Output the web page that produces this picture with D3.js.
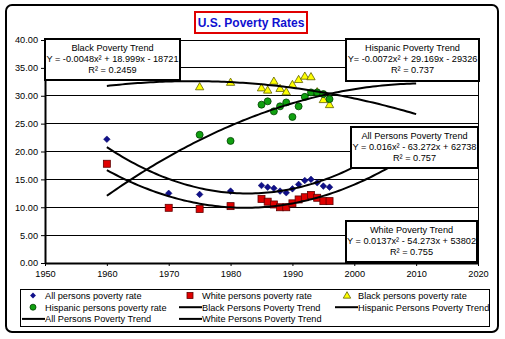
<!DOCTYPE html>
<html>
<head>
<meta charset="utf-8">
<script src="https://cdn.jsdelivr.net/npm/d3@7"></script>
<style>
  body { margin: 0; background: #fff; }
  text { font-family: "Liberation Sans", Arial, sans-serif; font-size: 9.2px; fill: #000; }
</style>
</head>
<body>
<svg id="chart" width="505" height="339"></svg>
<script>
// data
const allYears = [1960, 1970, 1975, 1980, 1985, 1986, 1987, 1988, 1989, 1990, 1991, 1992, 1993, 1994, 1995, 1996];
const allRate = [22.2, 12.5, 12.3, 12.9, 13.9, 13.6, 13.4, 12.9, 12.6, 13.3, 14.1, 14.8, 15.0, 14.4, 13.8, 13.6];
const whiteRate = [17.8, 9.9, 9.7, 10.2, 11.5, 11.0, 10.5, 10.0, 10.0, 10.7, 11.4, 11.8, 12.2, 11.7, 11.1, 11.1];

// the 1970 black value sits behind the trend box in the picture
const blackYears = [1970, 1975, 1980, 1985, 1986, 1987, 1988, 1989, 1990, 1991, 1992, 1993, 1994, 1995, 1996];
const blackRate = [33.5, 31.5, 32.3, 31.3, 30.9, 32.5, 31.2, 30.6, 31.9, 32.8, 33.4, 33.3, 30.6, 29.2, 28.3];

const hispanicYears = [1975, 1980, 1985, 1986, 1987, 1988, 1989, 1990, 1991, 1992, 1993, 1994, 1995, 1996];
const hispanicRate = [23.0, 21.9, 28.4, 29.0, 27.2, 28.1, 28.8, 26.2, 28.1, 29.8, 30.6, 30.6, 30.3, 29.4];

const xTicks = [1950, 1960, 1970, 1980, 1990, 2000, 2010, 2020];
const yTicks = [0, 5, 10, 15, 20, 25, 30, 35, 40];
const trendRange = [1960, 2010];

const trendBoxes = [
  { name: "Black", lines: ["Black Poverty Trend", "Y = -0.0048x\u00b2 + 18.999x - 18721", "R\u00b2 = 0.2459"] },
  { name: "Hispanic", lines: ["Hispanic Poverty Trend", "Y= -0.0072x\u00b2 + 29.169x - 29326", "R\u00b2 = 0.737"] },
  { name: "All", lines: ["All Persons Poverty Trend", "Y = 0.016x\u00b2 - 63.272x + 62738", "R\u00b2 = 0.757"] },
  { name: "White", lines: ["White Poverty Trend", "Y = 0.0137x\u00b2 - 54.273x + 53802", "R\u00b2 = 0.755"] }
];

const legendItems = [
  "All persons poverty rate", "White persons poverty rate", "Black persons poverty rate",
  "Hispanic persons poverty rate", "Black Persons Poverty Trend", "Hispanic Persons Poverty Trend",
  "All Persons Poverty Trend", "White Persons Poverty Trend"
];

const svg = d3.select("#chart");

// outer frame
svg.append("rect")
  .attr("x", 6).attr("y", 5).attr("width", 492).attr("height", 327)
  .attr("rx", 6).attr("fill", "#fff").attr("stroke", "#000").attr("stroke-width", 2);

const plot = { left: 45, right: 478, top: 40, bottom: 263 };

const x = d3.scaleLinear().domain([1950, 2020]).range([plot.left, plot.right]);
const y = d3.scaleLinear().domain([0, 40]).range([plot.bottom, plot.top]);

// gridlines
svg.append("g")
  .selectAll("line")
  .data(yTicks.filter(d => d > 0))
  .join("line")
  .attr("x1", plot.left).attr("x2", plot.right)
  .attr("y1", d => y(d)).attr("y2", d => y(d))
  .attr("stroke", "#000").attr("stroke-width", 1)
  .attr("shape-rendering", "crispEdges");

svg.append("line")
  .attr("x1", plot.right).attr("x2", plot.right)
  .attr("y1", plot.top).attr("y2", plot.bottom)
  .attr("stroke", "#000").attr("shape-rendering", "crispEdges");

// axes
const xAxis = svg.append("g")
  .attr("transform", `translate(0,${plot.bottom})`)
  .call(d3.axisBottom(x).tickValues(xTicks).tickFormat(d3.format("d")).tickSize(3).tickSizeOuter(0));
const yAxis = svg.append("g")
  .attr("transform", `translate(${plot.left},0)`)
  .call(d3.axisLeft(y).tickValues(yTicks).tickFormat(d3.format(".2f")).tickSize(4).tickSizeOuter(0));

[xAxis, yAxis].forEach(g => {
  g.select(".domain").attr("stroke", "#000").attr("stroke-width", 2);
  g.selectAll(".tick line").attr("stroke", "#000");
  g.selectAll(".tick text").style("fill", "#000");
  g.attr("font-family", null).attr("font-size", null);
});
xAxis.selectAll(".tick text").attr("dy", "0.9em");
yAxis.selectAll(".tick text").attr("x", -7);

// least-squares quadratic trend (x centred for stability)
function quadFit(xs, ys) {
  const mx = d3.mean(xs);
  let s0 = xs.length, s1 = 0, s2 = 0, s3 = 0, s4 = 0, t0 = 0, t1 = 0, t2 = 0;
  xs.forEach((xv, i) => {
    const u = xv - mx, v = ys[i];
    s1 += u; s2 += u * u; s3 += u * u * u; s4 += u * u * u * u;
    t0 += v; t1 += u * v; t2 += u * u * v;
  });
  const det = (m) => m[0][0] * (m[1][1] * m[2][2] - m[1][2] * m[2][1])
                   - m[0][1] * (m[1][0] * m[2][2] - m[1][2] * m[2][0])
                   + m[0][2] * (m[1][0] * m[2][1] - m[1][1] * m[2][0]);
  const M = [[s4, s3, s2], [s3, s2, s1], [s2, s1, s0]];
  const r = [t2, t1, t0];
  const D = det(M);
  const col = (k) => M.map((row, i) => row.map((c, j) => j === k ? r[i] : c));
  const a = det(col(0)) / D, b = det(col(1)) / D, c = det(col(2)) / D;
  return xv => { const u = xv - mx; return a * u * u + b * u + c; };
}

// markers
const mk = svg.append("g");
mk.selectAll(".all").data(allYears.map((d, i) => [d, allRate[i]])).join("path")
  .attr("d", d3.symbol(d3.symbolDiamond2, 28))
  .attr("transform", d => `translate(${x(d[0])},${y(d[1])})`)
  .attr("fill", "#10108a").attr("stroke", "#000060").attr("stroke-width", 0.5);
mk.selectAll(".white").data(allYears.map((d, i) => [d, whiteRate[i]])).join("rect")
  .attr("x", d => x(d[0]) - 3.5).attr("y", d => y(d[1]) - 3.5)
  .attr("width", 7).attr("height", 7)
  .attr("fill", "#e00000").attr("stroke", "#600000").attr("stroke-width", 0.8);
mk.selectAll(".black").data(blackYears.map((d, i) => [d, blackRate[i]])).join("path")
  .attr("d", d3.symbol(d3.symbolTriangle, 30))
  .attr("transform", d => `translate(${x(d[0])},${y(d[1])})`)
  .attr("fill", "#ffff00").attr("stroke", "#606000").attr("stroke-width", 0.8);
mk.selectAll(".hisp").data(hispanicYears.map((d, i) => [d, hispanicRate[i]])).join("circle")
  .attr("cx", d => x(d[0])).attr("cy", d => y(d[1])).attr("r", 3.5)
  .attr("fill", "#10a010").attr("stroke", "#004000").attr("stroke-width", 0.8);

// trend lines
const trendYears = d3.range(trendRange[0], trendRange[1] + 0.01, 0.5);
const line = d3.line().x(d => x(d[0])).y(d => y(d[1]));
const fits = [
  quadFit(blackYears, blackRate),
  quadFit(hispanicYears, hispanicRate),
  quadFit(allYears, allRate),
  quadFit(allYears, whiteRate)
];
svg.append("g").selectAll("path").data(fits).join("path")
  .attr("d", f => line(trendYears.map(t => [t, f(t)])))
  .attr("fill", "none").attr("stroke", "#000").attr("stroke-width", 2);

// equation boxes
const boxPos = [
  { x: 45, y: 39, w: 135, h: 41 },
  { x: 346, y: 39, w: 133, h: 42 },
  { x: 351, y: 127, w: 127, h: 41 },
  { x: 346, y: 221, w: 131, h: 41 }
];
const boxes = svg.append("g").selectAll("g").data(trendBoxes).join("g")
  .attr("transform", (d, i) => `translate(${boxPos[i].x},${boxPos[i].y})`);
boxes.append("rect")
  .attr("width", (d, i) => boxPos[i].w).attr("height", (d, i) => boxPos[i].h)
  .attr("fill", "#fff").attr("stroke", "#000").attr("stroke-width", 2);
boxes.each(function (d, i) {
  d3.select(this).selectAll("text").data(d.lines).join("text")
    .attr("x", boxPos[i].w / 2)
    .attr("y", (t, j) => 11.8 + j * 11.3)
    .attr("text-anchor", "middle")
    .text(t => t);
});

// title
svg.append("rect")
  .attr("x", 195).attr("y", 12).attr("width", 112).attr("height", 21)
  .attr("fill", "#fff").attr("stroke", "#e00000").attr("stroke-width", 2);
svg.append("text")
  .attr("x", 251).attr("y", 27).attr("text-anchor", "middle")
  .style("font-size", "12px").style("font-weight", "bold").style("fill", "#1010d0")
  .text("U.S. Poverty Rates");

// legend
svg.append("rect")
  .attr("x", 20.5).attr("y", 289.5).attr("width", 469).attr("height", 37)
  .attr("fill", "#fff").attr("stroke", "#000");
const colX = [45, 202, 358];
const legend = svg.append("g").selectAll("g").data(legendItems).join("g")
  .attr("transform", (d, i) => `translate(${colX[i % 3]},${295.5 + Math.floor(i / 3) * 11.7})`);
legend.append("text").attr("y", 3.3).text(d => d);
legend.each(function (d, i) {
  const g = d3.select(this);
  if (i === 0) g.append("path").attr("d", d3.symbol(d3.symbolDiamond2, 22)).attr("transform", "translate(-12,0)")
    .attr("fill", "#10108a");
  else if (i === 1) g.append("rect").attr("x", -15).attr("y", -3).attr("width", 6).attr("height", 6)
    .attr("fill", "#e00000").attr("stroke", "#600000").attr("stroke-width", 0.8);
  else if (i === 2) g.append("path").attr("d", d3.symbol(d3.symbolTriangle, 24)).attr("transform", "translate(-11,0.5)")
    .attr("fill", "#ffff00").attr("stroke", "#606000").attr("stroke-width", 0.8);
  else if (i === 3) g.append("circle").attr("cx", -12).attr("r", 3)
    .attr("fill", "#10a010").attr("stroke", "#004000").attr("stroke-width", 0.8);
  else g.append("line").attr("x1", -23).attr("x2", 0).attr("stroke", "#000").attr("stroke-width", 2);
});
</script>
</body>
</html>
